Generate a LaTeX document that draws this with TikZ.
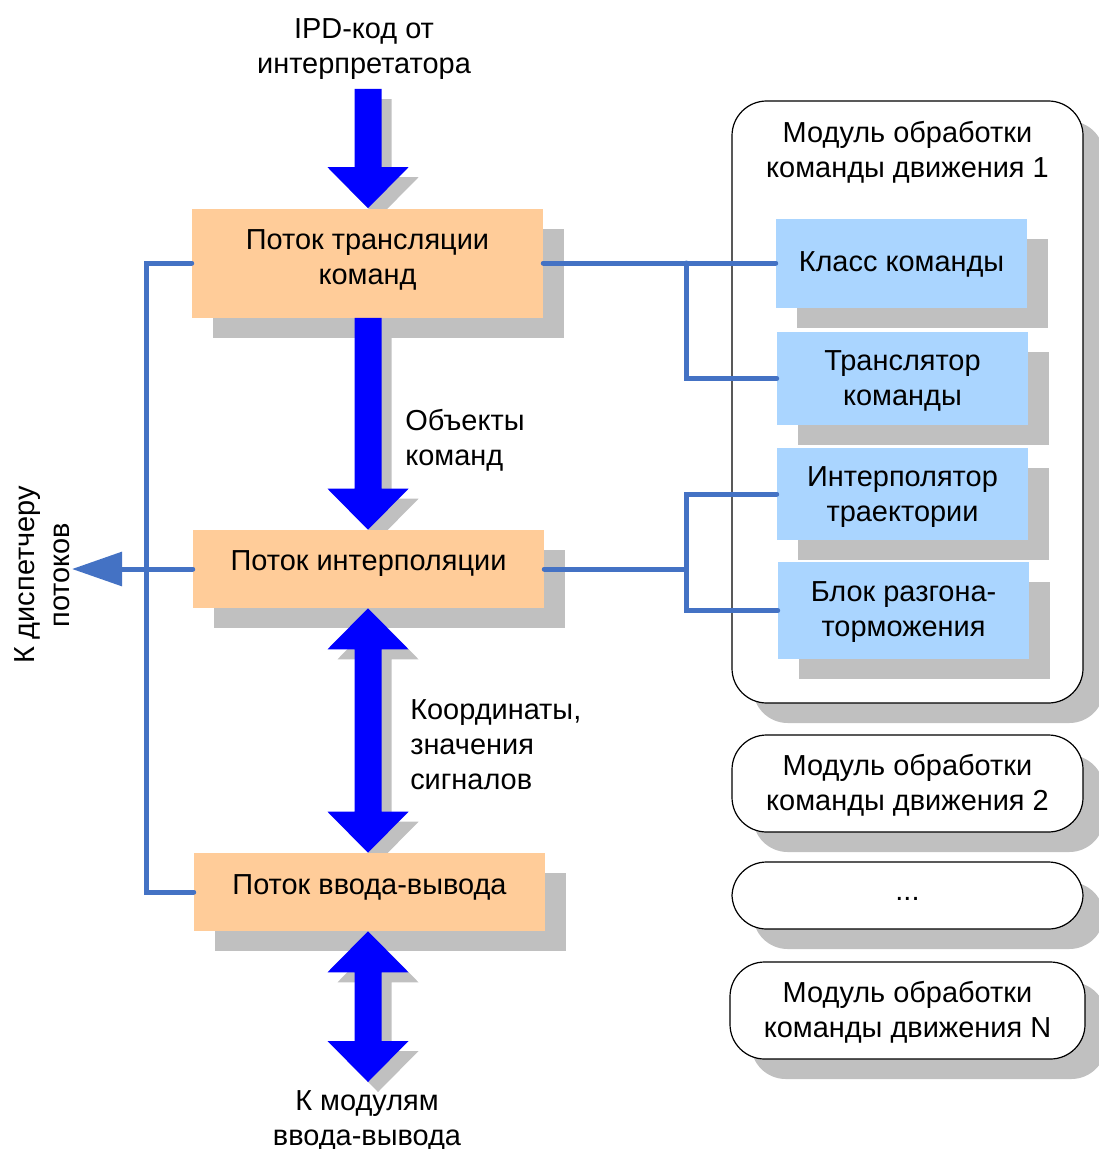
\documentclass[tikz,border=0pt]{standalone}
\usepackage{fontspec}
\setmainfont{Liberation Sans}
\usetikzlibrary{calc,shadows,arrows.meta}

\definecolor{flowfill}{RGB}{255,204,153}
\definecolor{partfill}{RGB}{170,213,255}
\definecolor{shadegray}{RGB}{192,192,192}
\definecolor{linkblue}{RGB}{68,114,196}
\definecolor{bigblue}{RGB}{0,0,255}

% block arrow pointing down from #2 to the tip #3
\newcommand\downblock[3]{%
  \fill[#1] let \p1=#2, \p2=#3 in
    (\x1-10.125pt,\y1) -- (\x1+10.125pt,\y1) -- (\x1+10.125pt,\y2+30.75pt)
    -- (\x1+30.375pt,\y2+30.75pt) -- (\x1,\y2) -- (\x1-30.375pt,\y2+30.75pt)
    -- (\x1-10.125pt,\y2+30.75pt) -- cycle;}
% two-headed block arrow between the tips #2 (upper) and #3 (lower)
\newcommand\twoblock[3]{%
  \fill[#1] let \p1=#2, \p2=#3 in
    (\x1,\y1) -- (\x1+30.375pt,\y1-30.75pt) -- (\x1+10.125pt,\y1-30.75pt)
    -- (\x1+10.125pt,\y2+30.75pt) -- (\x1+30.375pt,\y2+30.75pt) -- (\x1,\y2)
    -- (\x1-30.375pt,\y2+30.75pt) -- (\x1-10.125pt,\y2+30.75pt)
    -- (\x1-10.125pt,\y1-30.75pt) -- (\x1-30.375pt,\y1-30.75pt) -- cycle;}

\begin{document}
\begin{tikzpicture}[x=0.75pt,y=-0.75pt,
  every node/.style={font=\fontsize{21.7}{26.25}\selectfont,align=center,inner sep=0pt},
  boxshadow/.style={drop shadow={shadow xshift=15.75pt,shadow yshift=-15pt,
    fill=shadegray,opacity=1}},
  flowbox/.style={fill=flowfill,boxshadow,minimum width=351*0.75pt},
  partbox/.style={fill=partfill,boxshadow,minimum width=251*0.75pt},
  modbox/.style={draw=black,line width=0.9pt,fill=white,rounded corners=26pt,boxshadow},
  link/.style={draw=linkblue,line width=3.75pt,line cap=round},
  arrowshade/.style={fill=shadegray},
  arrowbody/.style={fill=bigblue}]

\useasboundingbox (0,0) rectangle (1099,1149);

% motion command modules
\node[modbox,minimum width=351*0.75pt,minimum height=602*0.75pt] (m1) at (907.5,402) {};
\node (m1t) at (907.5,152.5) {Модуль обработки\\команды движения 1};
\node[modbox,minimum width=351*0.75pt,minimum height=97*0.75pt] (m2) at (907.5,783.5) {};
\node (m2t) at (907.5,785) {Модуль обработки\\команды движения 2};
\node[modbox,minimum width=351*0.75pt,minimum height=67*0.75pt] (m3) at (907.5,895.5) {};
\node (m3t) at (907.5,899) {...};
\node[modbox,minimum width=355*0.75pt,minimum height=97*0.75pt] (mN) at (907.5,1010.5) {};
\node (mNt) at (907.5,1012.5) {Модуль обработки\\команды движения N};

% parts of module 1
\node[partbox,minimum height=89*0.75pt] (c1) at (901.5,263) {};
\node (c1t) at (901.5,264.5) {Класс команды};
\node[partbox,minimum height=93*0.75pt] (c2) at (902.5,378.5) {};
\node (c2t) at (902.5,380.5) {Транслятор\\команды};
\node[partbox,minimum height=92*0.75pt] (c3) at (902.5,494) {};
\node (c3t) at (902.5,497) {Интерполятор\\траектории};
\node[partbox,minimum height=97*0.75pt] (c4) at (903.5,610.5) {};
\node (c4t) at (903.5,612.5) {Блок разгона-\\торможения};

% end points of the big arrows
\coordinate (ipdin) at (368,89);
\coordinate (ioout) at (368,1082);

% thread boxes
\node[flowbox,minimum height=109*0.75pt] (t1) at (367.5,263) {};
\node[flowbox,minimum height=78*0.75pt] (t2) at (368.5,569) {};
\node[flowbox,minimum height=78*0.75pt] (t3) at (369.5,892) {};

% shadows of the big arrows
\begin{scope}[transform canvas={xshift=7.5pt,yshift=-7.5pt}]
\downblock{arrowshade}{(ipdin)}{(t1.north)}
\downblock{arrowshade}{($(t1.south)+(0.5,0)$)}{(t2.north)}
\twoblock{arrowshade}{($(t2.south)+(-0.5,0)$)}{(t3.north)}
\twoblock{arrowshade}{($(t3.south)+(-1.5,0)$)}{(ioout)}
\end{scope}

% thread box faces over the arrow shadows
\node[fill=flowfill,minimum width=351*0.75pt,minimum height=109*0.75pt] at (t1) {};
\node[fill=flowfill,minimum width=351*0.75pt,minimum height=78*0.75pt] at (t2) {};
\node[fill=flowfill,minimum width=351*0.75pt,minimum height=78*0.75pt] at (t3) {};

\node (t1t) at ($(t1)+(0,-3)$) {Поток трансляции\\команд};
\node (t2t) at ($(t2)+(0,-5)$) {Поток интерполяции};
\node (t3t) at ($(t3)+(0,-4.5)$) {Поток ввода-вывода};

% big arrows
\downblock{arrowbody}{(ipdin)}{(t1.north)}
\downblock{arrowbody}{($(t1.south)+(0.5,0)$)}{(t2.north)}
\twoblock{arrowbody}{($(t2.south)+(-0.5,0)$)}{(t3.north)}
\twoblock{arrowbody}{($(t3.south)+(-1.5,0)$)}{(ioout)}

% texts on the arrows
\node (ipd) at (364,49) {IPD-код от\\интерпретатора};
\node[align=left,anchor=west] (obj) at (405,440) {Объекты\\команд};
\node[align=left,anchor=west] (coord) at (410,745) {Координаты,\\значения\\сигналов};
\node (io) at (367,1121) {К модулям\\ввода-вывода};
\node[rotate=90] (disp) at (42,575) {К диспетчеру\\потоков};
\coordinate (disparrow) at (72,569);

% connections
\coordinate (j1) at (686,263);
\coordinate (j2) at (686,569);
\draw[link] (t1.west) -- ++(-45,0) |- (t3.west);
\draw[link,-{Triangle[length=37.5pt,width=25pt]}] (t2.west) -- (disparrow);
\draw[link] (t1.east) -- (c1.west);
\draw[link] (j1) |- (c2.west);
\draw[link] (t2.east) -- (j2);
\draw[link] (c3.west) -| (j2) |- (c4.west);
\end{tikzpicture}
\end{document}
